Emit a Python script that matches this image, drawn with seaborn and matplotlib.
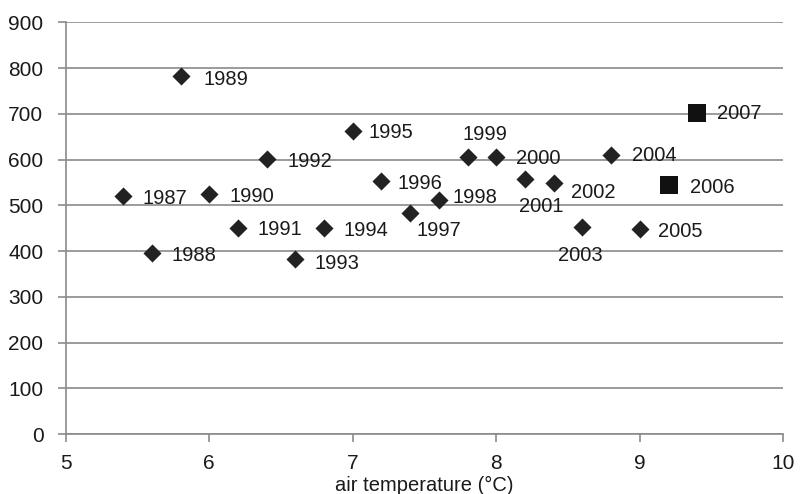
import matplotlib
matplotlib.use("Agg")
import matplotlib.pyplot as plt
import seaborn as sns
import pandas as pd

years = [1987, 1988, 1989, 1990, 1991, 1992, 1993, 1994, 1995, 1996, 1997,
         1998, 1999, 2000, 2001, 2002, 2003, 2004, 2005, 2006, 2007]
temperature = [5.4, 5.6, 5.8, 6.0, 6.2, 6.4, 6.6, 6.8, 7.0, 7.2, 7.4,
               7.6, 7.8, 8.0, 8.2, 8.4, 8.6, 8.8, 9.0, 9.2, 9.4]
values = [520, 396, 783, 525, 451, 601, 382, 450, 663, 553, 483,
          512, 606, 606, 558, 548, 452, 610, 448, 545, 701]
kind = ["diamond"] * 19 + ["square"] * 2
# label offsets in pixels (dx, dy)
label_dx = [19, 20, 23, 20, 20, 21, 19, 19, 16, 16, 6,
            14, -5, 20, -6, 17, -24, 21, 18, 21, 20]
label_dy = [-2, -3, -4, -3, -2, -2, -4, -2, -2, -2, -17,
            2, 22, -2, -28, -9, -28, -1, -2, -3, 0]

df = pd.DataFrame({"year": years, "temp": temperature, "val": values, "kind": kind})

sns.set_style("white")
plt.rcParams["font.family"] = ["Liberation Sans", "DejaVu Sans"]

fig = plt.figure(figsize=(8.01, 4.94), dpi=100)
ax = fig.add_axes([0.082, 0.121, 0.896, 0.834])

col = "#222222"
d = df[df["kind"] == "diamond"]
s = df[df["kind"] == "square"]
sns.scatterplot(data=d, x="temp", y="val", marker="D", s=85, color=col,
                linewidth=0, ax=ax, zorder=3)
sns.scatterplot(data=s, x="temp", y="val", marker="s", s=180, color="#111111",
                linewidth=0, ax=ax, zorder=3)

for yr, t, v, dx, dy in zip(years, temperature, values, label_dx, label_dy):
    ax.annotate(str(yr), (t, v), xytext=(dx, dy), textcoords="offset pixels",
                ha="left", va="center", fontsize=14.5, color="#1a1a1a", zorder=4)

ax.set_xlim(5, 10)
ax.set_ylim(0, 900)
ax.set_xticks([5, 6, 7, 8, 9, 10])
ax.set_yticks(range(0, 901, 100))
ax.yaxis.grid(True, color="#8a8a8a", linewidth=1.2)
ax.set_axisbelow(True)
for sp in ["top", "right"]:
    ax.spines[sp].set_visible(False)
for sp in ["left", "bottom"]:
    ax.spines[sp].set_color("#8a8a8a")
    ax.spines[sp].set_linewidth(1.2)
ax.tick_params(axis="both", direction="out", length=6, width=1.2, color="#8a8a8a",
               labelsize=15, labelcolor="#1a1a1a", left=True, bottom=True)
ax.tick_params(axis="x", pad=8)
ax.tick_params(axis="y", pad=10)
ax.set_xlabel("air temperature (°C)", fontsize=14.5, color="#1a1a1a", labelpad=2)
ax.set_ylabel("")

fig.savefig("out.png", dpi=100)
